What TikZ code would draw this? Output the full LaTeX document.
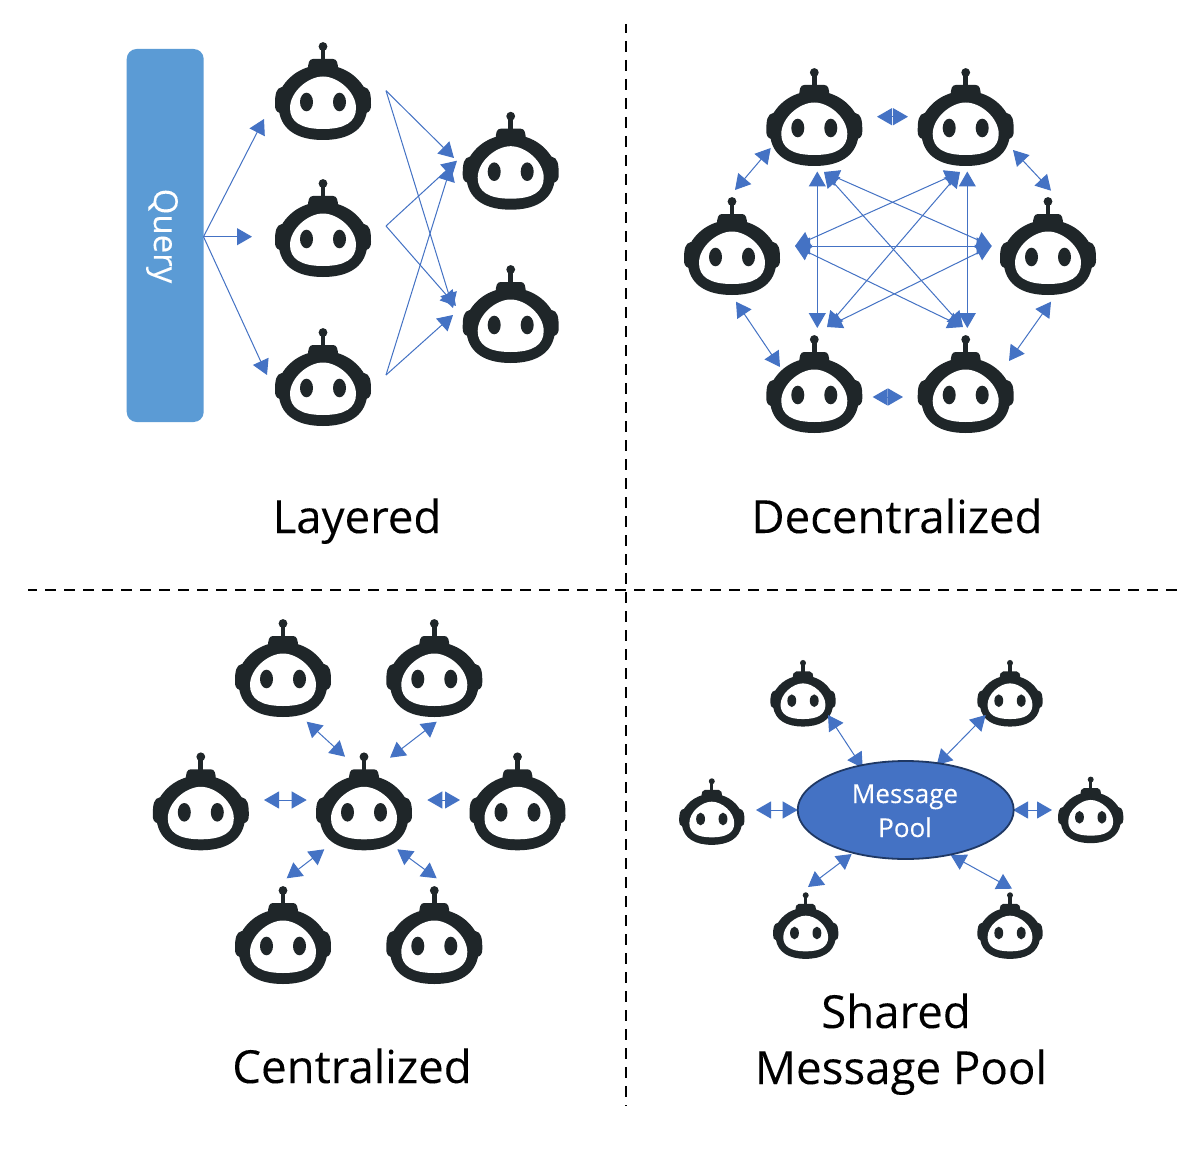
\documentclass[tikz,border=0pt]{standalone}
\usepackage{fontspec}
\setmainfont{Open Sans}[FakeBold=0.12]
\usetikzlibrary{arrows.meta,shapes.geometric}
\definecolor{robotink}{HTML}{1F2629}
\definecolor{linkblue}{HTML}{4472C4}
\definecolor{queryblue}{HTML}{5B9BD5}
\definecolor{pooledge}{HTML}{1F3864}
\tikzset{
  robot/.pic={
    \fill[robotink] (0,-55.5) circle (4.4);
    \fill[robotink] (-2.4,-55) rectangle (2.4,-40);
    \fill[robotink] (-15,-32) .. controls (-15,-39) and (-14,-43) .. (-10,-43) -- (10,-43) .. controls (14,-43) and (15,-39) .. (15,-32) -- cycle;
    \fill[robotink] (-41,-15) .. controls (-47,-14) and (-48,-8) .. (-48,3) .. controls (-48,7) and (-47,10) .. (-43,11) -- (43,11) .. controls (47,10) and (48,7) .. (48,3) .. controls (48,-8) and (47,-14) .. (41,-15) -- cycle;
    \fill[robotink] (0,-37) .. controls (-19,-37) and (-35,-27) .. (-43,-11) -- (-44,9) .. controls (-41,29) and (-24,38) .. (0,38) .. controls (24,38) and (41,29) .. (44,9) -- (43,-11) .. controls (35,-27) and (19,-37) .. (0,-37) -- cycle;
    \fill[white] (0,-25.5) .. controls (-15,-25.5) and (-33,-10) .. (-33,6) .. controls (-33,20) and (-22,27) .. (0,27) .. controls (22,27) and (33,20) .. (33,6) .. controls (33,-10) and (15,-25.5) .. (0,-25.5) -- cycle;
    \fill[robotink] (-16.5,0) ellipse (6.5 and 9.3);
    \fill[robotink] (16.5,0) ellipse (6.5 and 9.3);
  },
  link/.style={draw=linkblue,line width=1pt},
  oneway/.style={link,-{Triangle[length=15pt,width=17pt,fill=linkblue]}},
  twoway/.style={link,{Triangle[length=15pt,width=17pt,fill=linkblue]}-{Triangle[length=15pt,width=17pt,fill=linkblue]}},
  divider/.style={draw=black,line width=2.8pt,dash pattern=on 11pt off 8pt,dash phase=2pt},
  title/.style={anchor=base,font=\fontsize{45.6}{54}\selectfont,text=black,inner sep=0pt},
}
\begin{document}
\begin{tikzpicture}[x=1pt,y=-1pt]
\useasboundingbox (0,0) rectangle (1200,1153);
\fill[white] (0,0) rectangle (1200,1153);

% dividers
\coordinate (vtop) at (626,24); \coordinate (vbot) at (626,1106);
\coordinate (hleft) at (28,590); \coordinate (hright) at (1177,590);
\draw[divider] (vtop) -- (vbot);
\draw[divider] (hleft) -- (hright);

% ---- Layered
\node[draw=none,fill=queryblue,rounded corners=10pt,minimum width=77pt,minimum height=373pt,inner sep=0pt] (query) at (165.2,235.5) {};
\node[rotate=-90,text=white,font=\fontsize{33}{40}\selectfont] (querytext) at (162,236) {Query};
\pic at (323,102) {robot};
\pic at (323,239) {robot};
\pic at (323,388) {robot};
\pic at (510.7,171.7) {robot};
\pic at (510.7,325) {robot};
\coordinate (qout) at (203.5,236.7);
\coordinate (a1in) at (264,119);
\coordinate (a2in) at (252,236.7);
\coordinate (a3in) at (267,375);
\coordinate (a1out) at (386,90.7);
\coordinate (a2out) at (386,226);
\coordinate (a3out) at (386,375);
\coordinate (b1a) at (454,158);
\coordinate (b1b) at (457,160.7);
\coordinate (b1c) at (451,166);
\coordinate (b2a) at (453,308);
\coordinate (b2b) at (456,306);
\coordinate (b2c) at (453,315);
\draw[oneway] (qout) -- (a1in);
\draw[oneway] (qout) -- (a2in);
\draw[oneway] (qout) -- (a3in);
\draw[oneway] (a1out) -- (b1a);
\draw[oneway] (a1out) -- (b2a);
\draw[oneway] (a2out) -- (b1b);
\draw[oneway] (a2out) -- (b2b);
\draw[oneway] (a3out) -- (b1c);
\draw[oneway] (a3out) -- (b2c);
\node[title] (tlayered) at (357,533) {Layered};

% ---- Decentralized
\pic at (814.3,128) {robot};
\pic at (965.7,128) {robot};
\pic at (732,257) {robot};
\pic at (1048,257) {robot};
\pic at (814.3,395) {robot};
\pic at (965.7,395) {robot};
\coordinate (dt1) at (877,116.7); \coordinate (dt2) at (908,116.7);
\coordinate (db1) at (872.7,397); \coordinate (db2) at (903,397);
\coordinate (dlu1) at (770.7,148); \coordinate (dlu2) at (735,190);
\coordinate (dru1) at (1013,150); \coordinate (dru2) at (1051,190.7);
\coordinate (dld1) at (736,301.7); \coordinate (dld2) at (780,367);
\coordinate (drd1) at (1051,301.7); \coordinate (drd2) at (1009,361);
\draw[twoway] (dt1) -- (dt2);
\draw[twoway] (db1) -- (db2);
\draw[twoway] (dlu1) -- (dlu2);
\draw[twoway] (dru1) -- (dru2);
\draw[twoway] (dld1) -- (dld2);
\draw[twoway] (drd1) -- (drd2);
\coordinate (hTLv) at (817.3,171.5); \coordinate (hBLv) at (817.3,328);
\coordinate (hTRv) at (967.3,171.5); \coordinate (hBRv) at (967.3,328);
\coordinate (hL) at (795,246); \coordinate (hR) at (991.7,246);
\coordinate (hTLd) at (824,172); \coordinate (hTRd) at (960,172);
\coordinate (hBLd) at (827,327); \coordinate (hBRd) at (963,327);
\draw[twoway] (hTLv) -- (hBLv);
\draw[twoway] (hTRv) -- (hBRv);
\draw[twoway] (hL) -- (hR);
\draw[twoway] (hTLd) -- (hR);
\draw[twoway] (hTLd) -- (hBRd);
\draw[twoway] (hTRd) -- (hL);
\draw[twoway] (hTRd) -- (hBLd);
\draw[twoway] (hBLd) -- (hR);
\draw[twoway] (hBRd) -- (hL);
\node[title] (tdecentral) at (897,533) {Decentralized};

% ---- Centralized
\pic at (283,679) {robot};
\pic at (434.3,679) {robot};
\pic at (200.8,812.3) {robot};
\pic at (364,812.3) {robot};
\pic at (517.5,812.3) {robot};
\pic at (283,946) {robot};
\pic at (434.3,946) {robot};
\coordinate (c1a) at (306.7,721.7); \coordinate (c1b) at (345,756.7);
\coordinate (c2a) at (436.7,721.7); \coordinate (c2b) at (390,757.7);
\coordinate (c3a) at (264,800); \coordinate (c3b) at (306.7,800);
\coordinate (c4a) at (427.3,800); \coordinate (c4b) at (460,800);
\coordinate (c5a) at (324.3,849.3); \coordinate (c5b) at (286.7,878.3);
\coordinate (c6a) at (397.3,849.3); \coordinate (c6b) at (436.7,878.3);
\draw[twoway] (c1a) -- (c1b);
\draw[twoway] (c2a) -- (c2b);
\draw[twoway] (c3a) -- (c3b);
\draw[twoway] (c4a) -- (c4b);
\draw[twoway] (c5a) -- (c5b);
\draw[twoway] (c6a) -- (c6b);
\node[title] (tcentral) at (352,1083) {Centralized};

% ---- Shared message pool
\pic[scale=0.68] at (803,700.7) {robot};
\pic[scale=0.68] at (1010,700.7) {robot};
\pic[scale=0.68] at (711.8,819) {robot};
\pic[scale=0.68] at (1090.7,817.3) {robot};
\pic[scale=0.68] at (805.7,933) {robot};
\pic[scale=0.68] at (1010,933) {robot};
\coordinate (m1a) at (828,715); \coordinate (m1b) at (862.7,768);
\coordinate (m2a) at (985.7,715); \coordinate (m2b) at (936.7,765);
\coordinate (m3a) at (756,810); \coordinate (m3b) at (797.7,810);
\coordinate (m4a) at (1013,810); \coordinate (m4b) at (1052,810);
\coordinate (m5a) at (851.7,854); \coordinate (m5b) at (808,887);
\coordinate (m6a) at (950.7,855); \coordinate (m6b) at (1012,888.7);
\draw[twoway] (m1a) -- (m1b);
\draw[twoway] (m2a) -- (m2b);
\draw[twoway] (m3a) -- (m3b);
\draw[twoway] (m4a) -- (m4b);
\draw[twoway] (m5a) -- (m5b);
\draw[twoway] (m6a) -- (m6b);
\node[ellipse,draw=pooledge,line width=1.8pt,fill=linkblue,minimum width=216pt,minimum height=98pt,inner sep=0pt] (pool) at (905.7,810) {};
\node[text=white,font=\fontsize{26}{32}\selectfont,anchor=base,inner sep=0pt] (poolA) at (905,803) {Message};
\node[text=white,font=\fontsize{26}{32}\selectfont,anchor=base,inner sep=0pt] (poolB) at (905,837) {Pool};
\node[title] (tshared) at (896,1028) {Shared};
\node[title] (tmsg) at (901,1084) {Message Pool};
\end{tikzpicture}
\end{document}
